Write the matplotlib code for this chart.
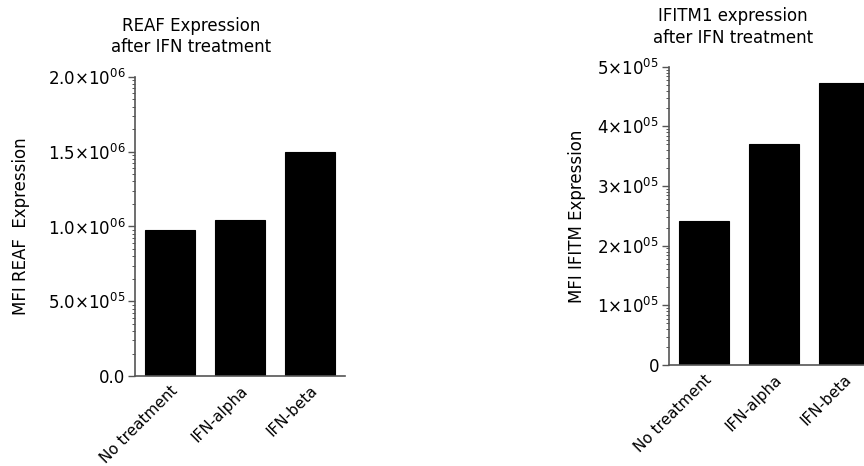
import numpy as np
import matplotlib
matplotlib.use('Agg')
import matplotlib.pyplot as plt
from matplotlib.ticker import FixedLocator, FixedFormatter

categories = ['No treatment', 'IFN-alpha', 'IFN-beta']

reaf_values = [0.977e6, 1.04e6, 1.50e6]
reaf_ticks = [0, 0.5e6, 1.0e6, 1.5e6, 2.0e6]
reaf_ticklabels = ['0.0', r'$5.0{\times}10^{05}$', r'$1.0{\times}10^{06}$',
                   r'$1.5{\times}10^{06}$', r'$2.0{\times}10^{06}$']

ifitm_values = [2.42e5, 3.70e5, 4.72e5]
ifitm_ticks = [0, 1e5, 2e5, 3e5, 4e5, 5e5]
ifitm_ticklabels = ['0', r'$1{\times}10^{05}$', r'$2{\times}10^{05}$', r'$3{\times}10^{05}$',
                    r'$4{\times}10^{05}$', r'$5{\times}10^{05}$']

plt.rcParams['font.family'] = 'DejaVu Sans'
plt.rcParams['mathtext.default'] = 'regular'

AXIS_COLOR = '#555555'


def minor_positions(ticks):
    # graphpad style minor ticks, log spaced inside each major interval
    out = []
    for lo, hi in zip(ticks[:-1], ticks[1:]):
        for k in range(2, 10):
            out.append(lo + (hi - lo) * np.log10(k))
    return out


def draw_panel(ax, values, ticks, ticklabels, ylabel, label_x):
    x = np.arange(len(categories))
    ax.bar(x, values, width=0.71, color='black', edgecolor='black', linewidth=0.8)
    ax.set_xlim(-0.5, 2.5)
    ax.set_ylim(ticks[0], ticks[-1])
    ax.yaxis.set_major_locator(FixedLocator(ticks))
    ax.yaxis.set_major_formatter(FixedFormatter(ticklabels))
    ax.yaxis.set_minor_locator(FixedLocator(minor_positions(ticks)))
    ax.set_xticks(x)
    ax.set_xticklabels(categories, rotation=45, ha='right', va='top',
                       rotation_mode='anchor', fontsize=11)
    ax.tick_params(axis='x', length=0, pad=5)
    ax.tick_params(axis='y', which='major', length=5, width=1, color=AXIS_COLOR,
                   labelsize=12, pad=2)
    ax.tick_params(axis='y', which='minor', length=2.5, width=0.7, color=AXIS_COLOR)
    for side in ['top', 'right']:
        ax.spines[side].set_visible(False)
    for side in ['left', 'bottom']:
        ax.spines[side].set_color(AXIS_COLOR)
        ax.spines[side].set_linewidth(1.2)
    ax.set_ylabel(ylabel, fontsize=12)
    ax.yaxis.set_label_coords(label_x, 0.5)


fig = plt.figure(figsize=(8.64, 4.66), dpi=100)

ax1 = fig.add_axes([0.1563, 0.193, 0.243, 0.642])
draw_panel(ax1, reaf_values, reaf_ticks, reaf_ticklabels, 'MFI REAF  Expression', -0.50)
fig.text(0.221, 0.922, 'REAF Expression\nafter IFN treatment', ha='center', va='center',
         fontsize=12, linespacing=1.25)

ax2 = fig.add_axes([0.774, 0.2167, 0.243, 0.640])
draw_panel(ax2, ifitm_values, ifitm_ticks, ifitm_ticklabels, 'MFI IFITM Expression', -0.396)
fig.text(0.848, 0.942, 'IFITM1 expression\nafter IFN treatment', ha='center', va='center',
         fontsize=12, linespacing=1.25)

fig.savefig('out.png', dpi=100)
